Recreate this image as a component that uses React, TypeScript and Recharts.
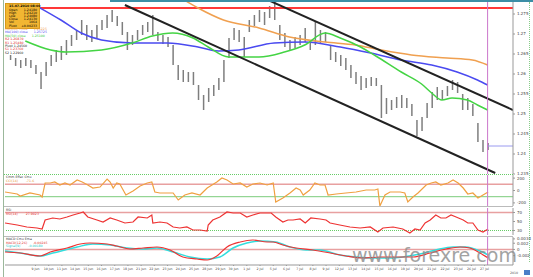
import { ComposedChart, Bar, Line, XAxis, YAxis, ReferenceLine } from "recharts"

// price bars: bar number, high, low
const barIndex = Array.from({ length: 95 }, (_, k) => k + 1)
const barHigh = [
    1.26475, 1.264, 1.2635, 1.264, 1.2635, 1.26225, 1.2605, 1.263, 1.26475, 1.266,
    1.267, 1.2685, 1.26975, 1.271, 1.2735, 1.27225, 1.271, 1.27225, 1.2735, 1.27475,
    1.276, 1.2745, 1.273, 1.2705, 1.26975, 1.271, 1.27225, 1.273, 1.27475, 1.2705,
    1.26975, 1.26925, 1.26725, 1.26225, 1.261, 1.2605, 1.2605, 1.25725, 1.25475, 1.2565,
    1.25725, 1.259, 1.2635, 1.269, 1.2715, 1.271, 1.26925, 1.2735, 1.27475, 1.276,
    1.2755, 1.277, 1.278, 1.27225, 1.27025, 1.2685, 1.26925, 1.26975, 1.2715, 1.2685,
    1.273, 1.271, 1.2705, 1.26725, 1.2655, 1.26475, 1.264, 1.26225, 1.2605, 1.2595,
    1.259, 1.25925, 1.259, 1.25725, 1.254, 1.2535, 1.25425, 1.25475, 1.254, 1.2525,
    1.2485, 1.24925, 1.25275, 1.2555, 1.25675, 1.256, 1.257, 1.2585, 1.258, 1.255,
    1.254, 1.2525, 1.24775, 1.2435, 1.24275,
]
const barLow = [
    1.2635, 1.262, 1.2615, 1.262, 1.2615, 1.26, 1.25625, 1.2595, 1.262, 1.263,
    1.2635, 1.26475, 1.267, 1.2685, 1.26975, 1.2685, 1.268, 1.269, 1.271, 1.2715,
    1.273, 1.272, 1.26975, 1.266, 1.26725, 1.2685, 1.26975, 1.2705, 1.26975, 1.26825,
    1.2675, 1.26675, 1.26225, 1.2585, 1.258, 1.258, 1.25725, 1.2535, 1.251, 1.253,
    1.2545, 1.256, 1.258, 1.264, 1.2685, 1.268, 1.26425, 1.2705, 1.272, 1.273,
    1.27225, 1.274, 1.2735, 1.2685, 1.26675, 1.266, 1.2665, 1.26725, 1.268, 1.266,
    1.26725, 1.2675, 1.268, 1.2635, 1.263, 1.262, 1.261, 1.259, 1.2575, 1.256,
    1.2565, 1.257, 1.257, 1.249, 1.25, 1.251, 1.2515, 1.2515, 1.2515, 1.2495,
    1.2445, 1.24575, 1.249, 1.2515, 1.2535, 1.2535, 1.2545, 1.256, 1.25525, 1.251,
    1.251, 1.2495, 1.243, 1.2405, 1.241,
]

// moving averages
const ma100Idx = [6.5, 11, 15, 19, 25, 32, 38, 42, 46, 53, 59, 66, 72, 78, 84, 89, 93, 95]
const ma100Val = [1.2768, 1.2735, 1.27025, 1.2685, 1.26775, 1.26775, 1.26675, 1.26575, 1.266, 1.26775, 1.268, 1.26675, 1.26525, 1.2635, 1.26225, 1.2605, 1.2585, 1.25725]
const ma50Idx = [4, 9, 12, 19, 25, 29, 33, 37, 40, 44, 50, 55, 59, 63, 66, 70, 73, 78, 82, 84, 86, 88, 91, 93, 95]
const ma50Val = [1.26825, 1.266, 1.2655, 1.266, 1.26775, 1.2695, 1.27025, 1.269, 1.26675, 1.26425, 1.26425, 1.2655, 1.26725, 1.27025, 1.269, 1.26675, 1.2645, 1.2605, 1.2575, 1.25525, 1.2535, 1.254, 1.2535, 1.25225, 1.251]
const ma200Idx = [34, 38, 43, 50, 56, 63, 69, 74, 80, 87, 92, 95]
const ma200Val = [1.2795, 1.2765, 1.2735, 1.2715, 1.26925, 1.268, 1.26725, 1.266, 1.26475, 1.264, 1.2635, 1.26225]

// drawn levels
const resistance = 1.2765
const resistanceFrom = 6.5
const lastPrice = 1.242
const lastBar = 95
const upperTrendX = [52.2, 100]
const upperTrendY = [1.27825, 1.251]
const lowerTrendX = [23.6, 96.5]
const lowerTrendY = [1.27725, 1.23525]
const priceTicks = [1.235, 1.24, 1.245, 1.25, 1.255, 1.26, 1.265, 1.27, 1.275]

// CCI
const cciIdx = [0, 2.4, 3, 4.9, 6.9, 7.3, 7.9, 8.9, 9.8, 10.8, 11.8, 12.8, 14.2, 15.2, 16.3, 17.3, 18.7, 20.1, 20.7, 21.3, 22, 22.6, 23.8, 25.2, 26.6, 28, 28.9, 29.5, 30.5, 31.9, 33.1, 34.1, 35.4, 36.8, 38.4, 39.8, 41.7, 42.7, 43.7, 44.9, 46.3, 47.6, 48.8, 50.2, 51.6, 52.8, 53.3, 54.7, 56.1, 57.3, 58.1, 58.7, 60, 61, 62, 63, 63.6, 65.2, 67.1, 69.1, 71.1, 72.8, 73.4, 73.8, 74.8, 75.8, 77.8, 78.7, 79.3, 80.3, 81.3, 82.9, 83.9, 84.8, 85.8, 87.2, 88.2, 89.2, 90.2, 91.1, 92.1, 93.1, 94.1, 95.1]
const cciVal = [-24, -56, -89, -40, -73, -105, 121, 121, 137, 89, 121, 89, 169, 137, 89, 40, 56, 185, 137, 40, 121, 105, -73, -8, 73, 121, 137, -24, -40, -40, -40, -153, -73, -40, -73, 40, 137, 202, 169, 105, 121, 56, 105, 121, 89, 121, -185, -121, -40, 40, 8, -73, 8, 121, 89, 89, -73, -56, -40, -24, 8, 8, 24, -250, -73, -24, -24, -40, -185, -105, -40, 89, 121, 137, 89, 121, 169, 121, 40, -56, -40, -121, -73, -24]
const cciTicks = [-200, 0, 200]

// RSI
const rsiIdx = [0, 2.4, 4.3, 6.3, 7.3, 7.9, 9.4, 10.8, 12.2, 13.4, 14.8, 15.4, 16.3, 18.1, 19.3, 20.7, 22, 23.6, 25.2, 26.2, 28, 28.9, 29.1, 30.5, 31.9, 33.1, 34.4, 35.8, 37, 38.4, 39.8, 40, 40.9, 42.3, 43.7, 44.9, 46.3, 47.6, 48.8, 50.2, 51.6, 52.4, 53.3, 54.7, 55.7, 56.7, 58.1, 59.1, 60.2, 62, 63.2, 64, 65.9, 67.9, 69.9, 71.9, 73.4, 74.4, 76.4, 78.3, 79.7, 80.7, 81.7, 82.7, 83.7, 84.8, 85.8, 86.8, 87.8, 88.8, 90.2, 91.1, 92.1, 93.1, 94.1, 95.1]
const rsiVal = [46.7, 42.2, 37.8, 35.6, 33.3, 53.3, 57.8, 55.6, 60, 64.4, 68.9, 71.1, 60, 53.3, 48.9, 57.8, 53.3, 46.7, 48.9, 60, 57.8, 64.4, 46.7, 48.9, 46.7, 37.8, 35.6, 37.8, 31.1, 31.1, 28.9, 42.2, 53.3, 60, 71.1, 68.9, 68.9, 60, 64.4, 68.9, 68.9, 68.9, 60, 48.9, 53.3, 53.3, 55.6, 46.7, 57.8, 55.6, 53.3, 46.7, 42.2, 37.8, 35.6, 37.8, 26.7, 35.6, 37.8, 33.3, 24.4, 33.3, 31.1, 46.7, 53.3, 64.4, 57.8, 57.8, 64.4, 60, 53.3, 46.7, 46.7, 31.1, 26.7, 33.3]
const rsiTicks = [30, 50, 70]

// MACD
const macdIdx = [0, 3, 6.9, 8.9, 12.2, 14.8, 16.7, 20.1, 22, 24.6, 27.2, 29.9, 32.5, 35, 37.8, 39.8, 41.7, 43.7, 46.3, 48.8, 51.6, 52.8, 54.7, 57.3, 60.6, 64, 67.1, 70.5, 73.8, 77, 80.3, 83.7, 86.8, 89.6, 91.5, 93.5, 95.1]
const macdVal = [-0.00082, -0.00114, -0.00211, -0.00082, 0.00046, 0.00175, 0.00207, 0.00175, 0.00111, 0.00014, 0.00046, 0.00079, -0.00018, -0.00243, -0.00307, -0.00339, -0.00211, 0.00079, 0.00239, 0.00304, 0.00239, 0.00239, 0.00143, 0.00046, -0.00018, -0.00114, -0.00211, -0.00275, -0.00243, -0.00243, -0.00243, -0.00114, 0.00014, 0.00079, 0.00046, -0.00114, -0.00275]
const signalIdx = [0, 3, 6.9, 9.4, 14.2, 17.3, 20.7, 24, 27.2, 29.9, 33.1, 36.4, 39.8, 42.3, 44.9, 47.6, 50.2, 53.3, 56.1, 59.3, 62, 65.9, 69.1, 72.4, 75.8, 78.3, 81.7, 84.8, 88.2, 90.7, 93.5, 95.1]
const signalVal = [-0.0005, -0.00114, -0.00211, -0.00114, 0.00079, 0.00175, 0.00143, 0.00046, 0.00014, 0.00046, -0.00082, -0.00243, -0.00307, -0.00243, 0.00046, 0.00207, 0.00271, 0.00239, 0.00079, -0.00018, -0.00018, -0.00179, -0.00243, -0.00275, -0.00275, -0.00243, -0.00146, -0.00018, 0.00079, 0.00079, -0.0005, -0.00179]
const macdTicks = [-0.002, 0, 0.002, 0.0034]

// time axis
const timeLabels = [
    "9 Jun", "10 Jun", "11 Jun", "14 Jun", "15 Jun", "16 Jun", "17 Jun", "18 Jun", "21 Jun", "22 Jun",
    "23 Jun", "24 Jun", "25 Jun", "28 Jun", "29 Jun", "30 Jun", "1 Jul", "2 Jul", "5 Jul", "6 Jul",
    "7 Jul", "8 Jul", "9 Jul", "12 Jul", "13 Jul", "14 Jul", "15 Jul", "16 Jul", "19 Jul", "20 Jul",
    "21 Jul", "22 Jul", "23 Jul", "26 Jul", "27 Jul",
]
const timeTicks = timeLabels.map((_, k) => 6 + k * 2.6)

const infoRows = [["Open", "1.24180"], ["High", "1.24210"], ["Low", "1.24080"], ["Close", "1.24130"], ["Vol", "1064"], ["Pivot", "+0.00233"]]
const legendRows = [
    ["MA(200) close", "1.26225", "#f0a050"],
    ["MA(100) close", "1.25725", "#4a4af0"],
    ["MA(50) close", "1.25100", "#3cc83c"],
    ["R2 1.26870", "", "#e02020"],
    ["R1 1.25480", "", "#e02020"],
    ["Pivot 1.24560", "", "#222"],
    ["S1 1.23760", "", "#e02020"],
    ["S2 1.22960", "", "#222"],
]

type Row = { i: number; [k: string]: any }
const merge = (parts: [number[], any[], string][]) => {
    const rows = new Map<number, Row>()
    parts.forEach(([idx, vals, key]) => idx.forEach((x, k) => {
        const r = rows.get(x) ?? { i: x }
        r[key] = vals[k]
        rows.set(x, r)
    }))
    return [...rows.values()].sort((a, b) => a.i - b.i)
}

const mainRows = merge([
    [barIndex, barIndex.map((_, k) => [barLow[k], barHigh[k]]), "range"],
    [ma200Idx, ma200Val, "ma200"],
    [ma100Idx, ma100Val, "ma100"],
    [ma50Idx, ma50Val, "ma50"],
])
const cciRows = merge([[cciIdx, cciVal, "cci"]])
const rsiRows = merge([[rsiIdx, rsiVal, "rsi"]])
const macdRows = merge([[macdIdx, macdVal, "macd"], [signalIdx, signalVal, "signal"]])

const tick = { fontSize: 4, fill: "#444", fontFamily: "DejaVu Sans" }
const tiny = { position: "absolute" as const, fontSize: 3.2, fontFamily: "DejaVu Sans", lineHeight: "3.4px", whiteSpace: "nowrap" as const }
const W = 533
const margin = (top: number, bottom: number) => ({ top, right: 0, bottom, left: 5 })
const vLine = <ReferenceLine x={lastBar} stroke="#cc77cc" strokeWidth={1} />

const App = () => {
    return (
        <div style={{ position: "absolute", left: 0, top: 0, width: W, height: 277, background: "#fff", overflow: "hidden", fontFamily: "DejaVu Sans" }}>
            <div style={{ position: "absolute", left: 110, top: 0, width: 423, height: 2, background: "#3c8ea6" }} />
            <div style={{ position: "absolute", left: 3, top: 0, width: 1, height: 277, background: "#9bb89b" }} />
            <div style={{ position: "absolute", left: 4, top: 174, width: 509, borderTop: "1px dotted #6c6" }} />
            <div style={{ position: "absolute", left: 4, top: 206, width: 509, borderTop: "1px solid #bbb" }} />
            <div style={{ position: "absolute", left: 4, top: 236, width: 509, borderTop: "1px solid #bbb" }} />
            <div style={{ position: "absolute", left: 529, top: 2, height: 260, borderLeft: "1px dotted #8c8" }} />

            <div style={{ position: "absolute", left: 0, top: 0 }}>
                <ComposedChart width={W} height={175} data={mainRows} margin={margin(2, 1)}>
                    <XAxis type="number" dataKey="i" domain={[0, 100]} hide allowDataOverflow />
                    <YAxis orientation="right" width={20} domain={[1.235, 1.278]} ticks={priceTicks} interval={0} allowDataOverflow tick={tick} tickSize={2} stroke="#999" />
                    <ReferenceLine segment={[{ x: resistanceFrom, y: resistance }, { x: 100, y: resistance }]} stroke="#ff3838" strokeWidth={2} ifOverflow="hidden" />
                    <Bar dataKey="range" fill="#7e7e7e" barSize={1.5} isAnimationActive={false} />
                    <Line dataKey="ma200" type="monotone" stroke="#f0a050" strokeWidth={1.5} dot={false} connectNulls isAnimationActive={false} />
                    <Line dataKey="ma100" type="monotone" stroke="#4a4af0" strokeWidth={1.5} dot={false} connectNulls isAnimationActive={false} />
                    <Line dataKey="ma50" type="monotone" stroke="#44d444" strokeWidth={1.5} dot={false} connectNulls isAnimationActive={false} />
                    <ReferenceLine segment={[{ x: upperTrendX[0], y: upperTrendY[0] }, { x: upperTrendX[1], y: upperTrendY[1] }]} stroke="#222" strokeWidth={2} ifOverflow="hidden" />
                    <ReferenceLine segment={[{ x: lowerTrendX[0], y: lowerTrendY[0] }, { x: lowerTrendX[1], y: lowerTrendY[1] }]} stroke="#222" strokeWidth={2} ifOverflow="hidden" />
                    <ReferenceLine segment={[{ x: lastBar, y: lastPrice }, { x: 100, y: lastPrice }]} stroke="#9a9af0" strokeWidth={1} ifOverflow="hidden" />
                    {vLine}
                </ComposedChart>
            </div>

            <div style={{ position: "absolute", left: 0, top: 175 }}>
                <ComposedChart width={W} height={32} data={cciRows} margin={margin(0, 1)}>
                    <XAxis type="number" dataKey="i" domain={[0, 100]} hide allowDataOverflow />
                    <YAxis orientation="right" width={20} domain={[-250, 250]} ticks={cciTicks} interval={0} allowDataOverflow tick={tick} tickSize={2} stroke="#999" />
                    <ReferenceLine y={100} stroke="#e8a0a0" strokeWidth={1.5} />
                    <ReferenceLine y={-100} stroke="#7ccc7c" strokeWidth={1} />
                    <Line dataKey="cci" type="linear" stroke="#f0a040" strokeWidth={1.2} dot={false} isAnimationActive={false} />
                    {vLine}
                </ComposedChart>
            </div>

            <div style={{ position: "absolute", left: 0, top: 208 }}>
                <ComposedChart width={W} height={28} data={rsiRows} margin={margin(0, 1)}>
                    <XAxis type="number" dataKey="i" domain={[0, 100]} hide allowDataOverflow />
                    <YAxis orientation="right" width={20} domain={[20, 80]} ticks={rsiTicks} interval={0} allowDataOverflow tick={tick} tickSize={2} stroke="#999" />
                    <ReferenceLine y={70} stroke="#e8a0a0" strokeWidth={1.5} />
                    <ReferenceLine y={30} stroke="#6c6" strokeDasharray="1 1" strokeWidth={1} />
                    <Line dataKey="rsi" type="linear" stroke="#ee3333" strokeWidth={1.2} dot={false} isAnimationActive={false} />
                    {vLine}
                </ComposedChart>
            </div>

            <div style={{ position: "absolute", left: 0, top: 237 }}>
                <ComposedChart width={W} height={38} data={macdRows} margin={margin(0, 2)}>
                    <XAxis type="number" dataKey="i" domain={[0, 100]} ticks={timeTicks} interval={0} allowDataOverflow height={8}
                        tickFormatter={(v: number) => timeLabels[timeTicks.indexOf(v)] ?? ""} tick={{ ...tick, fontSize: 3.2 }} tickSize={1} stroke="#999" />
                    <YAxis orientation="right" width={20} domain={[-0.005, 0.004]} ticks={macdTicks} interval={0} allowDataOverflow tick={tick} tickSize={2} stroke="#999" />
                    <ReferenceLine y={0} stroke="#e8a0a0" strokeWidth={1.5} />
                    <Line dataKey="signal" type="monotone" stroke="#33dddd" strokeWidth={1.5} dot={false} connectNulls isAnimationActive={false} />
                    <Line dataKey="macd" type="monotone" stroke="#ee3333" strokeWidth={1.2} dot={false} connectNulls isAnimationActive={false} />
                    {vLine}
                </ComposedChart>
            </div>

            <div style={{ position: "absolute", left: 5, top: 3, width: 33, height: 24, background: "#f2b632", border: "1px solid #d89a1a" }}>
                <div style={{ ...tiny, left: 3, top: 1, fontWeight: "bold" }}>15.07.2010 08:00</div>
                {infoRows.map(([k, v], n) => (
                    <div key={k} style={{ ...tiny, left: 3, top: 4.5 + n * 3.2, width: 28, display: "flex", justifyContent: "space-between" }}>
                        <span>{k}</span><span>{v}</span>
                    </div>
                ))}
            </div>
            {legendRows.map(([k, v, c], n) => (
                <div key={k} style={{ ...tiny, left: 5, top: 28 + n * 3.4, color: c }}>
                    {k}<span style={{ marginLeft: 6 }}>{v}</span>
                </div>
            ))}

            <div style={{ ...tiny, left: 6, top: 176, color: "#333" }}>Cmm Effec Cmx</div>
            <div style={{ ...tiny, left: 6, top: 179.5, color: "#e89030" }}>CCI(14)<span style={{ marginLeft: 8 }}>-71.6</span></div>
            <div style={{ ...tiny, left: 6, top: 209, color: "#333" }}>RSI</div>
            <div style={{ ...tiny, left: 6, top: 212.5, color: "#e03030" }}>RSI(14)<span style={{ marginLeft: 8 }}>27.9023</span></div>
            <div style={{ ...tiny, left: 6, top: 238, color: "#333" }}>MACD Cmx Ema</div>
            <div style={{ ...tiny, left: 6, top: 241.5, color: "#e03030" }}>MACD(12,26)<span style={{ marginLeft: 6 }}>-0.00245</span></div>
            <div style={{ ...tiny, left: 6, top: 245, color: "#22c8c8" }}>Signal(9)<span style={{ marginLeft: 8 }}>-0.00180</span></div>

            <div style={{ ...tiny, left: 510, top: 272, color: "#555" }}>2010</div>
            <div style={{ position: "absolute", left: 524, top: 270, width: 6, height: 5, background: "#4a7ec8" }} />

            <div style={{ position: "absolute", left: 352, top: 246, fontSize: 19, fontFamily: "DejaVu Sans", color: "#8c8c8c", opacity: 0.8, whiteSpace: "nowrap", lineHeight: "19px" }}>
                www.forexre.com
            </div>
        </div>
    )
}

export default App
